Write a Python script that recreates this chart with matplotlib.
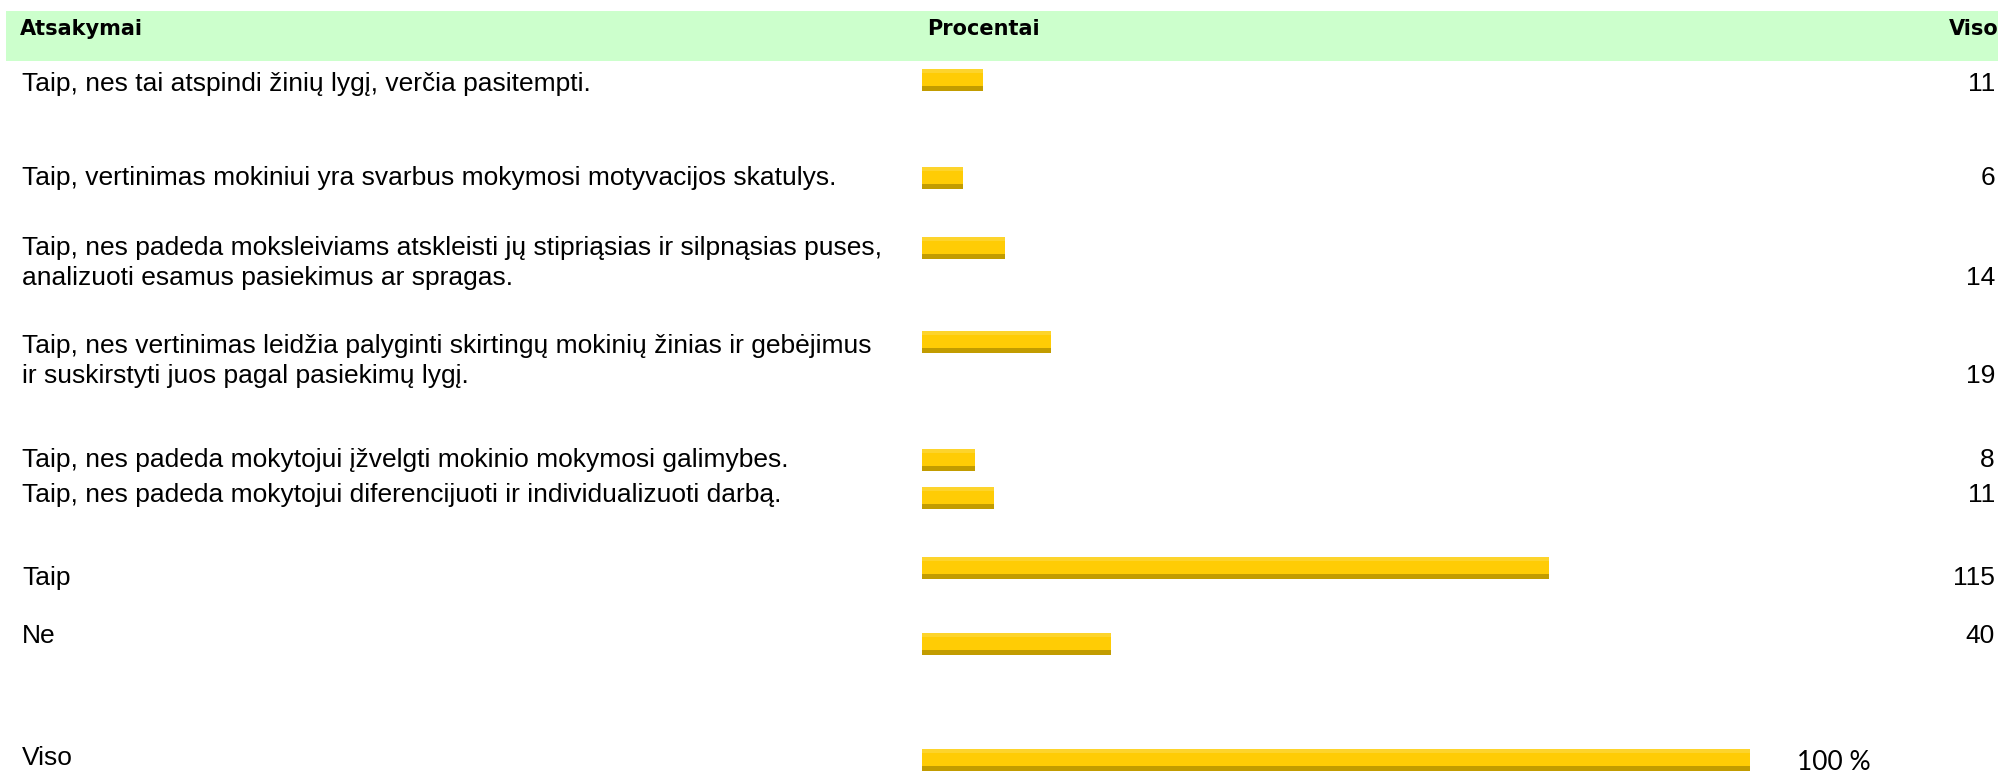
import matplotlib.pyplot as plt
from matplotlib.patches import Rectangle

# answers (multi-line ones split with \n), counts and bar lengths
answers = [
    'Taip, nes tai atspindi žinių lygį, verčia pasitempti.',
    'Taip, vertinimas mokiniui yra svarbus mokymosi motyvacijos skatulys.',
    'Taip, nes padeda moksleiviams atskleisti jų stipriąsias ir silpnąsias puses,\nanalizuoti esamus pasiekimus ar spragas.',
    'Taip, nes vertinimas leidžia palyginti skirtingų mokinių žinias ir gebėjimus\nir suskirstyti juos pagal pasiekimų lygį.',
    'Taip, nes padeda mokytojui įžvelgti mokinio mokymosi galimybes.',
    'Taip, nes padeda mokytojui diferencijuoti ir individualizuoti darbą.',
    'Taip',
    'Ne',
]
counts = [11, 6, 14, 19, 8, 11, 115, 40]
bar_pct = [7.4, 4.9, 10.0, 15.6, 6.4, 8.7, 75.7, 22.8]
total_label = 'Viso'
total_pct = 100
headers = ['Atsakymai', 'Procentai', 'Viso']

# layout (pixel rows, image is 1999 x 776)
W, H = 1999, 776
text_y = [84, 178, 248, 346, 460, 495, 578, 636]
bar_y = [80, 178, 248, 342, 460, 498, 568, 644]
val_y = [84, 178, 278, 376, 460, 495, 578, 636]
total_y = 758
line_h = 30
bar_h = 22

c_main = '#FFCC05'
c_top = '#FDD42C'
c_bot = '#C29C00'

fig = plt.figure(figsize=(W / 100, H / 100), dpi=100)
ax = fig.add_axes([0, 0, 1, 1])
ax.set_xlim(0, W)
ax.set_ylim(H, 0)
ax.axis('off')

# header band
ax.add_patch(Rectangle((6, 11), W, 50, color='#CCFFCC', lw=0))
hfont = dict(family='DejaVu Sans', weight='bold', fontsize=15, va='center')
ax.text(20, 29, headers[0], ha='left', **hfont)
ax.text(927, 29, headers[1], ha='left', **hfont)
ax.text(1999, 29, headers[2], ha='right', **hfont)

tfont = dict(family='Liberation Sans', fontsize=19, va='center', color='black')
for lab, y in zip(answers, text_y):
    for i, line in enumerate(lab.split('\n')):
        ax.text(22, y + i * line_h, line, ha='left', **tfont)
for n, y in zip(counts, val_y):
    ax.text(1995, y, str(n), ha='right', **tfont)
ax.text(22, total_y, total_label, ha='left', **tfont)
ax.text(1797, 763, f'{total_pct} %', ha='left', family='Lato', fontsize=19, va='center')

# bars on their own percent axis
x0, x1 = 922, 1750
bx = fig.add_axes([x0 / W, 0, (x1 - x0) / W, 1])
bx.set_xlim(0, 100)
bx.set_ylim(H, 0)
bx.axis('off')
ys = bar_y + [760]
vals = bar_pct + [total_pct]
bx.barh(ys, vals, height=bar_h, color=c_main, lw=0)
bx.barh([y - bar_h / 2 + 2 for y in ys], vals, height=4, color=c_top, lw=0)
bx.barh([y + bar_h / 2 - 2.5 for y in ys], vals, height=5, color=c_bot, lw=0)

fig.savefig('out.png', dpi=100)
